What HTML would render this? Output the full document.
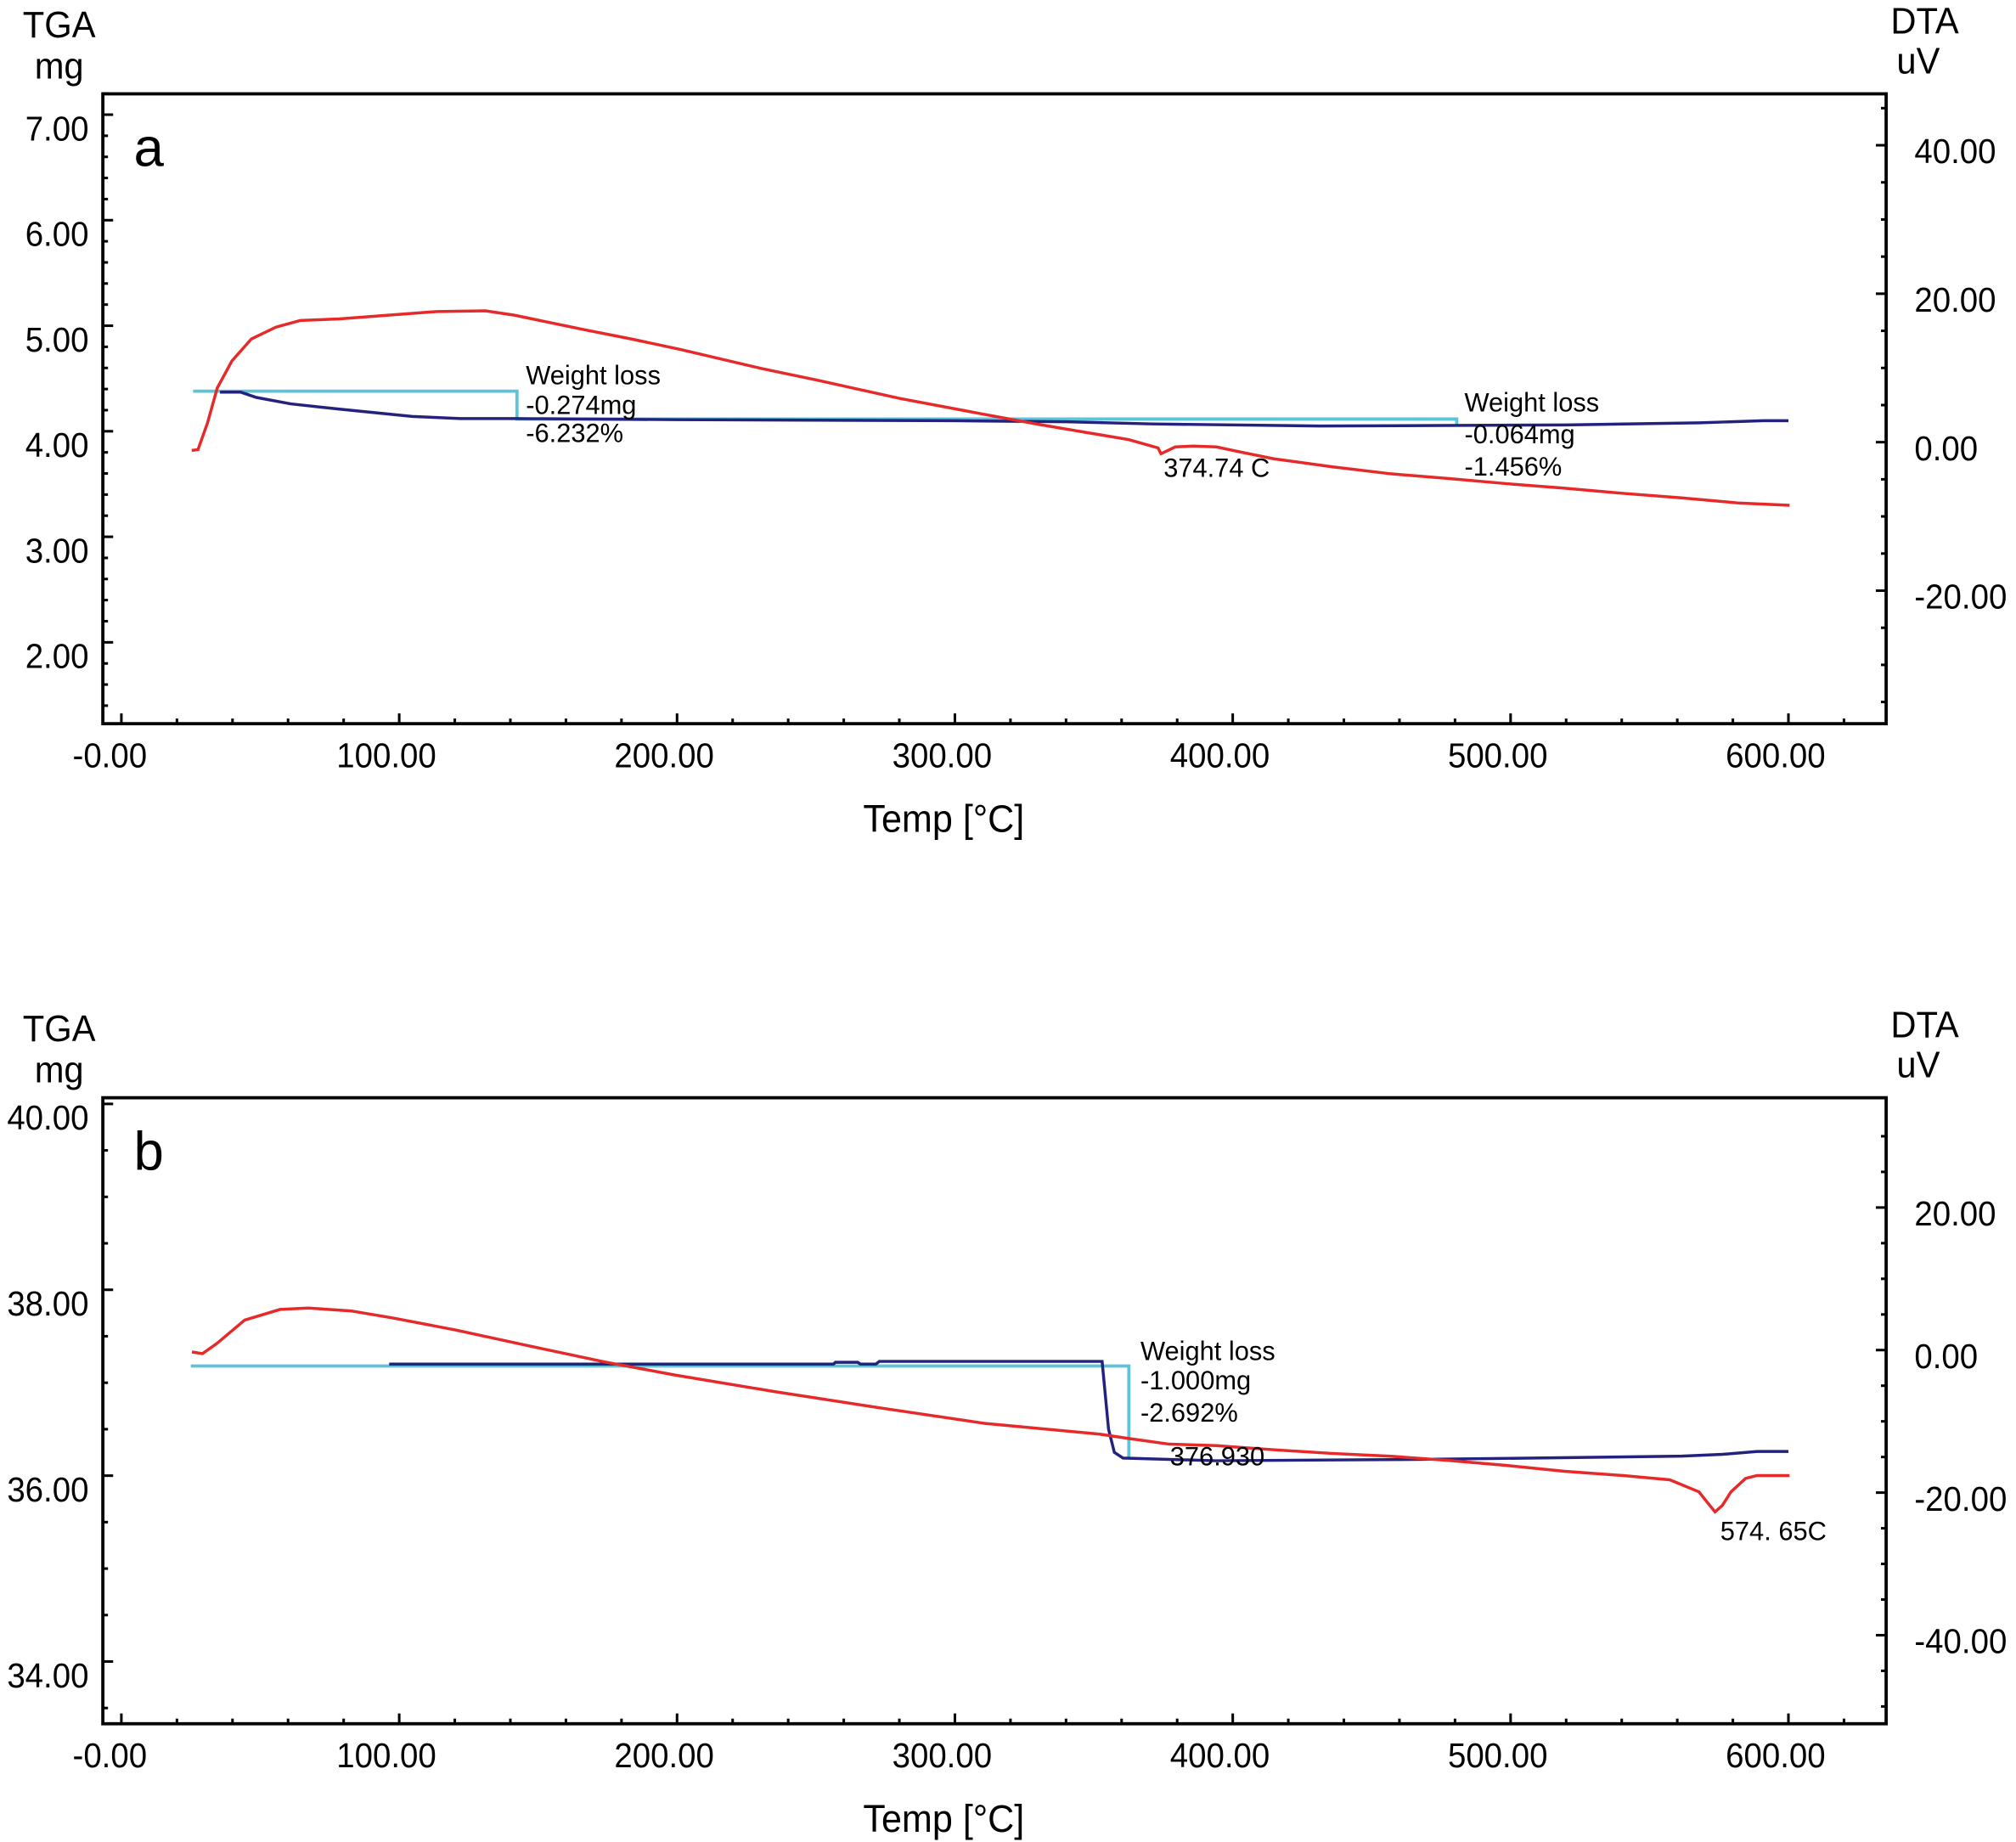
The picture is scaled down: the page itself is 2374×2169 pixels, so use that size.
<!DOCTYPE html>
<html><head><meta charset="utf-8"><style>
html,body{margin:0;padding:0;background:#fff}
svg{display:block}
text{font-family:"Liberation Sans",Arial,sans-serif;fill:#000}
</style></head><body>
<svg id="chart" width="2374" height="2169" viewBox="0 0 1568 1433" preserveAspectRatio="none" xmlns="http://www.w3.org/2000/svg"></svg>
<script>
// ---------- Panel a data ----------
const aDtaT = [25.3,27.6,31,34.5,39.8,46.8,55.6,64.4,78.5,96.1,113.5,131,141.4,166,183.5,201.1,230.6,250,280,310,330,352.1,362.6,373.1,374.2,379.3,385.7,394.1,402.5,415,435.7,456.9,477.8,498.7,519.5,540.5,561.5,582.4,600.4];
const aDtaV = [-1.1,-1.0,2.6,7.3,10.95,13.9,15.5,16.4,16.6,17.1,17.6,17.7,17.1,15.2,13.9,12.5,9.9,8.4,5.9,3.8,2.4,1.0,0.35,-0.78,-1.56,-0.64,-0.52,-0.64,-1.3,-2.25,-3.3,-4.26,-4.9,-5.6,-6.2,-6.9,-7.5,-8.2,-8.5];
const aTgaT = [35.5,43,48.6,61,78.5,104.7,122,141,200,300,340,371,431,520,568,591,600];
const aTgaV = [4.37,4.37,4.32,4.26,4.21,4.14,4.12,4.12,4.11,4.10,4.09,4.07,4.05,4.06,4.08,4.10,4.10];
const aStepT = [25.8,142.4,142.4,480.6,480.6];
const aStepV = [4.38,4.38,4.116,4.116,4.05];
// ---------- Panel b data ----------
const bDtaT = [25.4,29.2,34.3,44.4,57.1,67.3,82.5,97.7,120.6,146,173.9,199.2,234.8,272.8,310.9,352.1,362.6,377.2,394.1,415,435.7,456.9,477.8,498.7,519.5,540.5,557.3,567.8,570.9,573.6,576.2,579.3,584.6,588.7,600.4];
const bDtaV = [-0.27,-0.5,0.9,4.2,5.7,5.9,5.5,4.5,2.8,0.65,-1.66,-3.5,-5.8,-8.1,-10.3,-11.8,-12.4,-13.2,-13.4,-14.0,-14.5,-14.9,-15.5,-16.2,-17.0,-17.6,-18.2,-19.9,-21.4,-22.7,-21.8,-19.9,-18.0,-17.6,-17.6];
const bTgaT = [96.4,256.3,257,265,266,271.6,272.8,353,355.3,357.4,360.5,394,469.5,538.6,561.6,576.3,588.8,600];
const bTgaV = [37.20,37.20,37.22,37.22,37.20,37.20,37.23,37.23,36.50,36.25,36.19,36.16,36.175,36.20,36.21,36.23,36.26,36.26];
const bStepT = [25,362.6,362.6];
const bStepV = [37.18,37.18,36.19];
// ---------- tick labels ----------
const xTicks = [0,100,200,300,400,500,600];
const xLabels = ["-0.00","100.00","200.00","300.00","400.00","500.00","600.00"];
const aLeftTicks = [7,6,5,4,3,2];
const aLeftLabels = ["7.00","6.00","5.00","4.00","3.00","2.00"];
const aRightTicks = [40,20,0,-20];
const aRightLabels = ["40.00","20.00","0.00","-20.00"];
const bLeftTicks = [40,38,36,34];
const bLeftLabels = ["40.00","38.00","36.00","34.00"];
const bRightTicks = [20,0,-20,-40];
const bRightLabels = ["20.00","0.00","-20.00","-40.00"];

const NS="http://www.w3.org/2000/svg";
const svg=document.getElementById('chart');
function mk(tag,attrs,parent){const e=document.createElementNS(NS,tag);for(const k in attrs)e.setAttribute(k,attrs[k]);(parent||svg).appendChild(e);return e;}
function txt(x,y,s,size,anchor,parent,sx){
  const t=mk('text',{x:0,y:0,'font-size':size,'text-anchor':anchor||'start',transform:'translate('+x+','+y+') scale('+(sx||1)+',1)'},parent);
  t.textContent=s;return t;}

const X = t => 94.4 + t*2.161;
const L=80, R=1467;

function panel(p){
  const g=mk('g',{});
  
  
  const yL=v=>p.lz+(p.lv0-v)*p.lk, yR=v=>p.rz-v*p.rk;
  const fr=mk('rect',{x:L,y:p.top,width:R-L,height:p.bot-p.top,fill:'none',stroke:'#000','stroke-width':2.5},g);
  
  
  for(let t=0;t<=620;t+=20){
    const maj=t%100===0;
    const l=mk('line',{x1:X(t),x2:X(t),y1:p.bot,y2:p.bot-(maj?8:4),stroke:'#000','stroke-width':2},g);
    
    
  }
  xTicks.forEach((t,i)=>{const e=txt(X(t)-(i===0?9:10),p.bot+34,xLabels[i],27,'middle',g,0.94);
    
    });
  for(let v=p.lmin;v<=p.lmax+1e-6;v+=p.lminor){
    const maj=Math.abs(v/p.lmajor-Math.round(v/p.lmajor))<1e-6;
    const l=mk('line',{x1:L,x2:L+(maj?8:4),y1:yL(v),y2:yL(v),stroke:'#000','stroke-width':2},g);
    
    
  }
  p.lt.forEach((v,i)=>{const e=txt(69,yL(v)+20,p.ll[i],27,'end',g,0.94);
    
    });
  for(let v=p.rmin;v<=p.rmax+1e-6;v+=5){
    const maj=v%20===0;
    const l=mk('line',{x1:R,x2:R-(maj?8:4),y1:yR(v),y2:yR(v),stroke:'#000','stroke-width':2},g);
    
    
  }
  p.rt.forEach((v,i)=>{const e=txt(1489,yR(v)+14,p.rl[i],27,'start',g,0.94);
    
    });
  const pts=(T,V,f)=>T.map((t,i)=>X(t).toFixed(1)+','+f(V[i]).toFixed(1)).join(' ');
  const cy=mk('polyline',{points:pts(p.sT,p.sV,yL),fill:'none',stroke:'#5cc3da','stroke-width':2.5},g);
  
  
  const bl=mk('polyline',{points:pts(p.gT,p.gV,yL),fill:'none',stroke:'#23237e','stroke-width':2.3},g);
  
  
  const rd=mk('polyline',{points:pts(p.dT,p.dV,yR),fill:'none',stroke:'#e62a2a','stroke-width':2.3},g);
  
  
  let e=txt(734,p.bot+84,'Temp [°C]',30,'middle',g,0.95);
  
  
  e=txt(46,p.top-44,'TGA',29,'middle',g,0.95);
  
  
  e=txt(46,p.top-12,'mg',29,'middle',g,0.95);
  
  
  e=txt(1497,p.top-47,'DTA',29,'middle',g,0.95);
  
  
  e=txt(1492,p.top-16,'uV',29,'middle',g,0.95);
  
  
  e=txt(104,p.top+56,p.id,42,'start',g);
  
  
  p.notes.forEach(n=>{const t=txt(n[0],n[1],n[2],21,'start',g,0.97);
    
    });
}

panel({id:'a',top:73,bot:563,lz:335.5,lv0:4,lk:82.1,rz:344,rk:5.775,
  lmin:1.4,lmax:7.2,lminor:0.2,lmajor:1,rmin:-35,rmax:45,
  lt:aLeftTicks,ll:aLeftLabels,rt:aRightTicks,rl:aRightLabels,
  dT:aDtaT,dV:aDtaV,gT:aTgaT,gV:aTgaV,sT:aStepT,sV:aStepV,
  notes:[[409,299,'Weight loss'],[409,322,'-0.274mg'],[409,344,'-6.232%'],[905,371,'374.74 C'],[1139,320,'Weight loss'],[1139,345,'-0.064mg'],[1139,370,'-1.456%']]});
panel({id:'b',top:854,bot:1341,lz:1148,lv0:36,lk:72.3,rz:1050.3,rk:5.545,
  lmin:33.5,lmax:40,lminor:0.5,lmajor:2,rmin:-50,rmax:30,
  lt:bLeftTicks,ll:bLeftLabels,rt:bRightTicks,rl:bRightLabels,
  dT:bDtaT,dV:bDtaV,gT:bTgaT,gV:bTgaV,sT:bStepT,sV:bStepV,
  notes:[[887,1058,'Weight loss'],[887,1081,'-1.000mg'],[887,1106,'-2.692%'],[910,1140,'376.930'],[1338,1198,'574. 65C']]});
</script>
</body></html>
